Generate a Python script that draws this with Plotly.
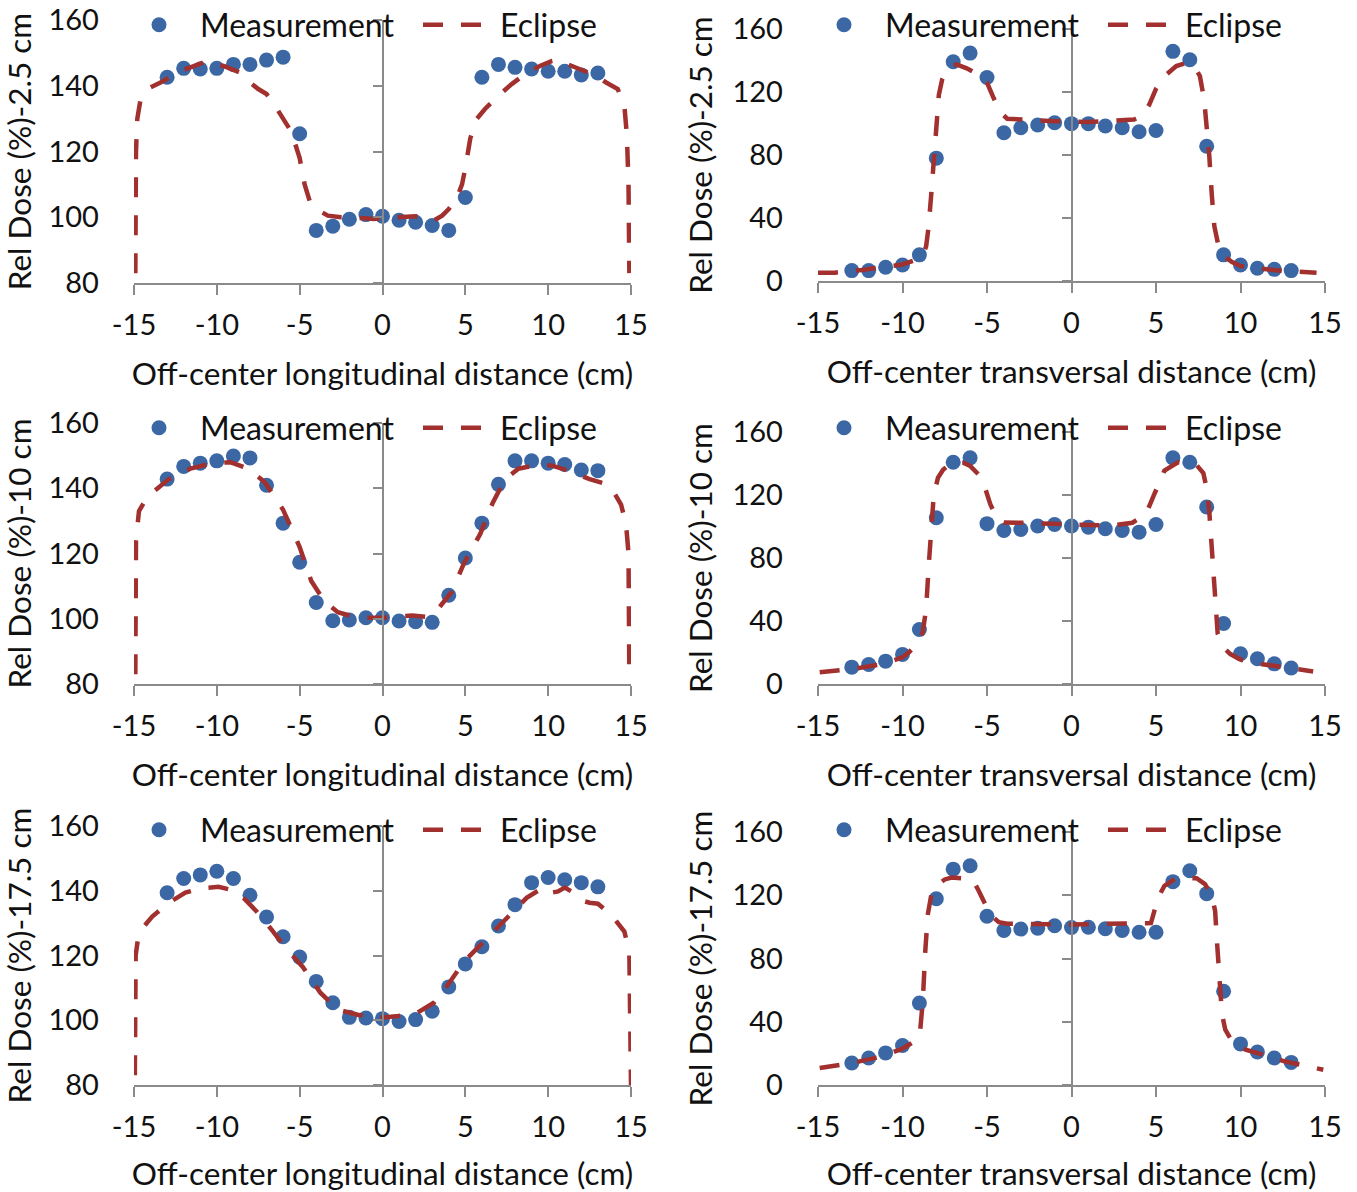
import plotly.graph_objects as go

# Measurement positions (cm) shared by every profile
positions = list(range(-13, 14))

# Measured relative dose (%) along the longitudinal direction
meas_long_2_5 = [142.6, 145.3, 145.1, 145.3, 146.5, 146.5, 147.8, 148.7, 125.4, 96.0,
                 97.3, 99.4, 100.8, 100.3, 99.1, 98.5, 97.5, 96.0, 106.0, 142.6,
                 146.5, 145.6, 145.1, 144.4, 144.4, 143.3, 143.9]
meas_long_10 = [142.8, 146.7, 147.7, 148.4, 149.9, 149.3, 140.9, 129.3, 117.3, 105.0,
                99.4, 99.6, 100.3, 100.3, 99.3, 99.1, 98.9, 107.2, 118.6, 129.3,
                141.2, 148.4, 148.4, 147.7, 147.3, 145.6, 145.4]
meas_long_17_5 = [139.4, 143.8, 144.9, 146.0, 143.8, 138.6, 131.9, 125.8, 119.5, 112.0,
                  105.4, 100.9, 100.7, 100.5, 99.6, 100.2, 102.8, 110.3, 117.4, 122.7,
                  129.1, 135.7, 142.5, 144.1, 143.4, 142.5, 141.2]

# Measured relative dose (%) along the transversal direction
meas_trans_2_5 = [6.6, 6.6, 8.7, 10.2, 16.6, 78.0, 139.2, 144.7, 129.2, 94.1,
                  97.3, 99.0, 100.5, 99.9, 99.9, 98.4, 97.3, 94.8, 95.6, 145.8,
                  140.5, 85.6, 16.6, 10.2, 8.1, 7.4, 6.6]
meas_trans_10 = [10.7, 12.4, 14.5, 18.8, 34.6, 105.6, 140.8, 143.6, 101.8, 97.5,
                 98.1, 100.3, 101.3, 100.3, 99.6, 98.6, 97.5, 96.4, 101.3, 143.6,
                 140.8, 112.4, 38.4, 19.2, 16.0, 12.8, 10.2]
meas_trans_17_5 = [13.9, 17.1, 20.3, 25.0, 51.8, 117.8, 136.5, 138.7, 106.7, 97.7,
                   98.6, 99.2, 100.7, 99.6, 99.8, 98.8, 97.7, 96.6, 96.6, 128.6,
                   135.5, 121.0, 59.3, 26.0, 20.9, 17.1, 14.3]

# Eclipse calculated profiles
ecl_long_2_5_x = [-14.92, -14.88, -14.8, -14.6, -14.0, -13.4, -12.2, -11.2, -10.6, -10.0,
                  -9.6, -8.6, -8.0, -7.5, -7.0, -6.5, -6.0, -5.5, -5.0, -4.7,
                  -4.4, -4.0, -3.3, -2.5, -1.5, -0.5, 0.0, 1.0, 2.0, 2.6,
                  3.1, 3.6, 4.0, 4.5, 4.8, 5.0, 5.3, 5.7, 6.2, 7.0,
                  7.8, 8.6, 9.5, 10.2, 10.7, 11.2, 12.0, 12.9, 13.5, 14.2,
                  14.6, 14.75, 14.85, 14.9]
ecl_long_2_5_y = [83, 120, 130, 136, 139.5, 141, 144.4, 146.5, 147.5, 146.5,
                  146, 144, 141, 139, 137.5, 134, 130, 126, 118, 110,
                  105, 102.5, 100.5, 100, 99.8, 99.5, 99.8, 100, 100.3, 100,
                  99, 100.5, 102.5, 106, 110, 115, 124, 130, 133, 137,
                  140.5, 143.5, 146, 147.5, 148, 146.5, 145, 143, 141, 139,
                  134, 125, 110, 83]

ecl_long_10_x = [-14.92, -14.88, -14.7, -14.3, -13.9, -12.9, -11.6, -10.4, -9.2, -8.1,
                 -7.1, -6.0, -5.0, -4.3, -3.5, -2.7, -1.5, 0.0, 1.8, 2.6,
                 3.35, 4.2, 4.9, 5.9, 6.65, 7.4, 8.2, 9.2, 10.2, 11.2,
                 12.5, 13.5, 14.0, 14.4, 14.7, 14.85, 14.9]
ecl_long_10_y = [83, 124, 133, 136.5, 138.6, 142.8, 146, 147.5, 148, 146,
                 141.8, 133.4, 122, 111.6, 105.3, 102, 100.3, 100.3, 101, 100.6,
                 103, 108.4, 116.8, 126, 135.5, 142.8, 146, 147, 147, 145.4,
                 142.8, 141.3, 138.5, 135, 129, 120, 82]

ecl_long_17_5_x = [-14.95, -14.9, -14.75, -14.4, -13.9, -12.9, -11.9, -10.9, -9.9, -9.3,
                   -8.6, -7.6, -6.6, -5.8, -4.8, -3.75, -2.7, -1.5, -0.2, 0.8,
                   2.1, 3.1, 3.9, 4.9, 5.9, 6.9, 7.9, 8.7, 9.7, 10.2,
                   10.6, 11.0, 11.5, 12.0, 12.5, 13.0, 13.8, 14.6, 14.9, 15.0]
ecl_long_17_5_y = [83, 120, 125.5, 129, 132, 136.3, 139.4, 140.8, 141.2, 140.5,
                   138.9, 133.6, 127.4, 122, 116.4, 108.5, 103.3, 101.7, 100.7, 101.2,
                   102.3, 105.4, 110.6, 118, 123.2, 128.4, 133.6, 137.8, 141, 139.4,
                   139.8, 141, 139.5, 137, 136.3, 136, 132.6, 127.4, 121, 80]

ecl_trans_2_5_x = [-15.0, -14.0, -12.4, -11.2, -10.0, -9.2, -8.8, -8.6, -8.45, -8.3,
                   -8.15, -8.0, -7.85, -7.65, -7.3, -6.8, -6.2, -5.5, -5.0, -4.6,
                   -4.2, -3.8, -3.0, -1.0, 1.0, 2.5, 3.7, 4.2, 4.6, 5.0,
                   5.5, 6.2, 6.8, 7.3, 7.6, 7.85, 8.0, 8.15, 8.3, 8.45,
                   8.7, 9.0, 9.5, 10.0, 11.0, 12.5, 14.5]
ecl_trans_2_5_y = [5.3, 5.3, 7, 8.5, 10.5, 13.5, 16, 22, 35, 55,
                   78, 100, 118, 128, 135, 137.5, 135, 131, 126, 116,
                   107, 103, 102.5, 101.5, 101, 101.5, 102.5, 105, 112, 122,
                   130, 136.5, 138.5, 136, 130, 115, 100, 80, 55, 35,
                   22, 16, 12, 9.5, 8, 6.4, 5.3]

ecl_trans_10_x = [-14.9, -12.9, -11.1, -10.0, -9.6, -9.1, -8.8, -8.6, -8.45, -8.3,
                  -8.15, -7.9, -7.6, -7.1, -6.4, -6.0, -5.5, -5.1, -4.8, -4.4,
                  -4.0, -3.0, 0.0, 2.3, 3.6, 4.4, 4.9, 5.5, 6.3, 7.4,
                  7.8, 8.0, 8.15, 8.3, 8.45, 8.65, 9.0, 9.4, 10.0, 11.0,
                  12.5, 14.3]
ecl_trans_10_y = [7.5, 9.6, 12.8, 17, 20.3, 26, 33, 48, 75, 100,
                  120, 131, 136, 140.5, 140.5, 138.5, 133, 124, 114, 105,
                  102.5, 102.4, 101, 100.5, 102.4, 107.7, 120.5, 135.5, 140.8, 139,
                  134, 124, 110, 85, 55, 32, 23, 19, 15.5, 13,
                  10.7, 8]

ecl_trans_17_5_x = [-14.9, -13.0, -11.2, -10.0, -9.6, -9.1, -8.95, -8.8, -8.65, -8.5,
                    -8.3, -8.0, -7.5, -7.1, -6.2, -5.8, -5.5, -5.2, -4.8, -4.3,
                    -3.8, 0.0, 4.15, 4.7, 4.9, 5.2, 5.5, 6.2, 7.4, 7.9,
                    8.3, 8.5, 8.6, 8.75, 8.9, 9.1, 9.5, 10.3, 12.6, 14.9]
ecl_trans_17_5_y = [10.7, 13.9, 18.1, 23, 25.6, 29, 35, 53, 85, 108,
                    120, 126, 130, 131.2, 130.5, 129, 123, 116, 107.7, 103,
                    102, 101.5, 102, 102.4, 110, 120, 126, 130.8, 130.8, 127,
                    120, 110, 92, 65, 45, 35, 27.7, 22.4, 15, 9.6]

x_ticks = [-15, -10, -5, 0, 5, 10, 15]
long_ticks = [80, 100, 120, 140, 160]
trans_ticks = [0, 40, 80, 120, 160]

depth_labels = ["2.5", "10", "17.5"]
x_title_long = "Off-center longitudinal distance (cm)"
x_title_trans = "Off-center transversal distance (cm)"

MARKER_COLOR = "#3B68A4"
LINE_COLOR = "#A1302E"
AXIS_COLOR = "#8A8A8A"
FONT = "Lato, 'Open Sans', sans-serif"
FS_TICK = 29
FS_TITLE = 31.5
FS_LEGEND = 32

W, H = 1357, 1192

# pixel geometry of the six panels
panels = [
    dict(col=0, row=0, top=20, bottom=283),
    dict(col=1, row=0, top=29, bottom=281),
    dict(col=0, row=1, top=423, bottom=684),
    dict(col=1, row=1, top=432, bottom=684),
    dict(col=0, row=2, top=826, bottom=1085),
    dict(col=1, row=2, top=832, bottom=1085),
]
cols = [(134, 631), (818, 1325)]
legend_y = [25, 428, 830]
legend_x = [118, 803]

series = [
    (meas_long_2_5, ecl_long_2_5_x, ecl_long_2_5_y),
    (meas_trans_2_5, ecl_trans_2_5_x, ecl_trans_2_5_y),
    (meas_long_10, ecl_long_10_x, ecl_long_10_y),
    (meas_trans_10, ecl_trans_10_x, ecl_trans_10_y),
    (meas_long_17_5, ecl_long_17_5_x, ecl_long_17_5_y),
    (meas_trans_17_5, ecl_trans_17_5_x, ecl_trans_17_5_y),
]

fig = go.Figure()
layout = dict(
    width=W, height=H,
    margin=dict(l=0, r=0, t=0, b=0, autoexpand=False),
    paper_bgcolor="white", plot_bgcolor="white",
    font=dict(family=FONT, size=FS_TICK, color="#111111"),
    showlegend=True,
)

for i, (p, (meas, ex, ey)) in enumerate(zip(panels, series)):
    n = i + 1
    sfx = "" if n == 1 else str(n)
    lg = "legend" if n == 1 else f"legend{n}"
    left, right = cols[p["col"]]
    transversal = p["col"] == 1
    depth = depth_labels[p["row"]]

    fig.add_trace(go.Scatter(
        x=positions, y=meas, mode="markers", name="Measurement",
        marker=dict(color=MARKER_COLOR, size=15, symbol="circle"),
        xaxis=f"x{sfx}", yaxis=f"y{sfx}", legend=lg, cliponaxis=True,
    ))
    fig.add_trace(go.Scatter(
        x=ex, y=ey, mode="lines", name="Eclipse",
        line=dict(color=LINE_COLOR, width=4.5, dash="20px,18px"),
        xaxis=f"x{sfx}", yaxis=f"y{sfx}", legend=lg, cliponaxis=True,
    ))

    dom_x = [left / W, right / W]
    dom_y = [1 - p["bottom"] / H, 1 - p["top"] / H]
    mid = (left + right) / 2

    layout[f"xaxis{sfx}"] = dict(
        domain=dom_x, range=[-15, 15], anchor=f"y{sfx}",
        tickvals=x_ticks, ticktext=[str(v) for v in x_ticks],
        ticks="outside", ticklen=10, tickcolor=AXIS_COLOR, tickwidth=1.5,
        showline=True, linecolor=AXIS_COLOR, linewidth=1.5,
        showgrid=False, zeroline=False, automargin=False,
        ticklabelstandoff=5,
        title=dict(text=x_title_trans if transversal else x_title_long,
                   standoff=23, font=dict(size=FS_TITLE)),
    )
    yt = trans_ticks if transversal else long_ticks
    # the vertical axis crosses at x = 0, its labels sit at the left edge
    layout[f"yaxis{sfx}"] = dict(
        domain=dom_y, range=[yt[0], yt[-1]], anchor="free",
        position=mid / W,
        tickvals=yt, ticktext=[str(v) for v in yt],
        ticks="outside", ticklen=9, tickcolor=AXIS_COLOR, tickwidth=1.5,
        showline=True, linecolor=AXIS_COLOR, linewidth=1.5,
        showgrid=False, zeroline=False, automargin=False,
        ticklabelstandoff=int(mid - left) + 20,
        title=dict(text=f"Rel Dose (%)-{depth} cm", standoff=9,
                   font=dict(size=FS_TITLE)),
    )
    layout[lg] = dict(
        orientation="h", x=legend_x[p["col"]] / W, y=1 - legend_y[p["row"]] / H,
        xanchor="left", yanchor="middle",
        bgcolor="rgba(0,0,0,0)", borderwidth=0,
        font=dict(size=FS_LEGEND, family=FONT),
        itemwidth=72, entrywidth=213, tracegroupgap=0,
    )

fig.update_layout(**layout)
fig.write_html("out.html")
